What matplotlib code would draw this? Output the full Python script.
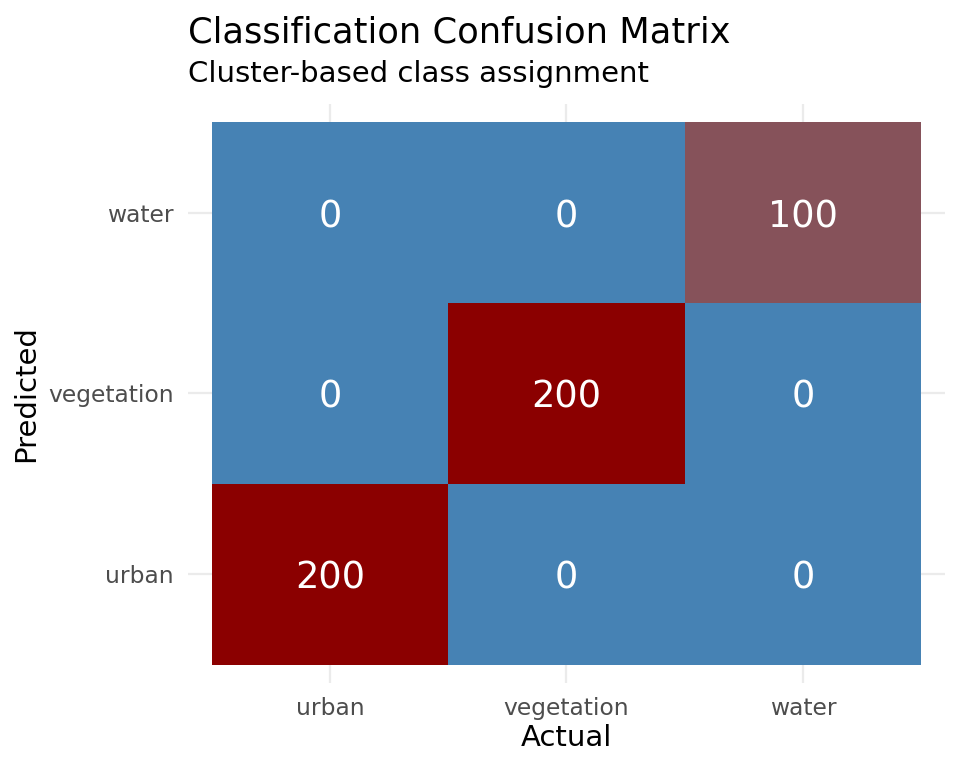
import matplotlib
matplotlib.use("Agg")
import matplotlib.pyplot as plt
import numpy as np
from matplotlib.colors import LinearSegmentedColormap

# confusion matrix data
actual = ["urban", "vegetation", "water"]
predicted = ["urban", "vegetation", "water"]
# counts[i][j] -> predicted[i], actual[j]
counts = np.array([
    [200, 0, 0],
    [0, 200, 0],
    [0, 0, 100],
])

title = "Classification Confusion Matrix"
subtitle = "Cluster-based class assignment"

plt.rcParams['font.family'] = ['DejaVu Sans']

# steelblue -> darkred, with a midpoint close to ggplot's Lab blend
cmap = LinearSegmentedColormap.from_list(
    "conf", [(0.0, "#4682B4"), (0.5, "#86525A"), (1.0, "#8B0000")])

fig = plt.figure(figsize=(9.6, 7.68), dpi=100)
ax = fig.add_axes([0.1958, 0.1107, 0.7886, 0.7539])

xs = np.arange(1, len(actual) + 1)
ys = np.arange(1, len(predicted) + 1)

# grid lines under tiles
for x in xs:
    ax.axvline(x, color="#EBEBEB", lw=1.6, zorder=0)
for y in ys:
    ax.axhline(y, color="#EBEBEB", lw=1.6, zorder=0)

edges_x = np.arange(0.5, len(actual) + 1, 1)
edges_y = np.arange(0.5, len(predicted) + 1, 1)
ax.pcolormesh(edges_x, edges_y, counts, cmap=cmap,
              vmin=counts.min(), vmax=counts.max(), zorder=1)

for i, p in enumerate(predicted):
    for j, a in enumerate(actual):
        ax.text(xs[j], ys[i], str(counts[i, j]), ha="center",
                va="center_baseline", color="white", fontsize=26.5, zorder=2)

ax.set_xlim(0.4, 3.6)
ax.set_ylim(0.4, 3.6)
ax.set_xticks(xs)
ax.set_xticklabels(actual)
ax.set_yticks(ys)
ax.set_yticklabels(predicted)
ax.tick_params(length=0, labelsize=16.8, labelcolor="#4D4D4D", pad=10)
for s in ax.spines.values():
    s.set_visible(False)

ax.set_xlabel("Actual", fontsize=21, labelpad=3)
ax.set_ylabel("Predicted", fontsize=21, labelpad=6)

fig.text(0.1958, 0.945, title, fontsize=25.4, ha="left", va="baseline")
fig.text(0.1958, 0.893, subtitle, fontsize=21, ha="left", va="baseline")

fig.savefig("out.png", dpi=100)
